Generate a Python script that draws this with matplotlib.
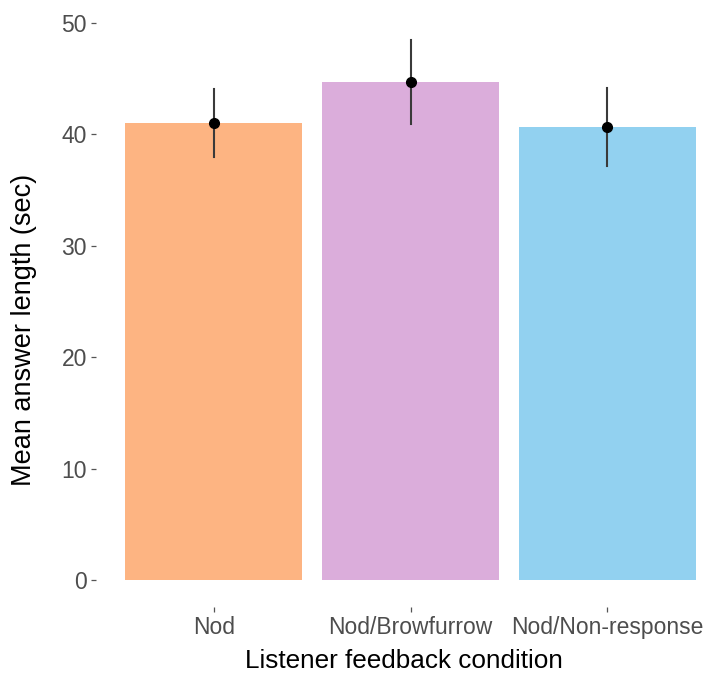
"""
Mean answer length per listener feedback condition
"""

import matplotlib.pyplot as plt

conditions = ["Nod", "Nod/Browfurrow", "Nod/Non-response"]
mean_length = [41.0, 44.7, 40.7]
ci_low = [38.0, 40.9, 37.2]
ci_high = [44.1, 48.5, 44.2]
colours = ["#FDB482", "#DBADDB", "#92D1F0"]

plt.rcParams["font.family"] = ["Liberation Sans", "DejaVu Sans"]

fig = plt.figure(figsize=(7.07, 6.74), dpi=100)
# panel placed in pixel terms, x side runs slightly past the right edge
W, H = 707, 674
left, right, top, bottom = 96, 725, 12.6, 607
ax = fig.add_axes([left / W, 1 - bottom / H, (right - left) / W, (bottom - top) / H])

x = list(range(1, len(conditions) + 1))
ax.bar(x, mean_length, width=0.9, color=colours, zorder=1)

# error bars and means
for xi, lo, hi in zip(x, ci_low, ci_high):
    ax.plot([xi, xi], [lo, hi], color="#3A3A3A", lw=1.5, zorder=2)
ax.plot(x, mean_length, "o", color="black", ms=7, zorder=3)

ax.set_xlim(0.4, 3.6)
ax.set_ylim(-0.05 * 48.5, 48.5 * 1.05)
ax.set_yticks([0, 10, 20, 30, 40, 50])
ax.set_xticks(x)
ax.set_xticklabels(conditions)

for side in ["top", "right", "left", "bottom"]:
    ax.spines[side].set_visible(False)

ax.tick_params(axis="both", colors="#555555", labelcolor="#4D4D4D",
               labelsize=16.5, length=3.5, width=0.9, pad=3)

ax.set_xlabel("Listener feedback condition", fontsize=18.8)
ax.set_ylabel("Mean answer length (sec)", fontsize=19.5)
ax.xaxis.set_label_coords((404 - left) / (right - left), (bottom - 649) / (bottom - top))
ax.yaxis.set_label_coords((37 - left) / (right - left), (bottom - 330) / (bottom - top))

fig.savefig("out.png", dpi=100)
